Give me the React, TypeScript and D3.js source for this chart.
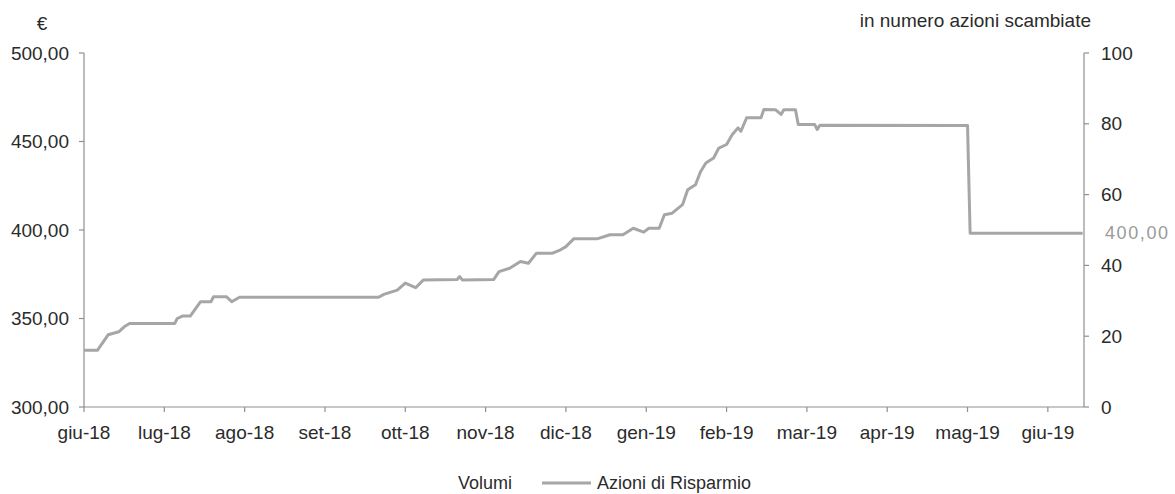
import React from "react";
import * as d3 from "d3";

const monthLabels = ["giu-18", "lug-18", "ago-18", "set-18", "ott-18", "nov-18", "dic-18", "gen-19", "feb-19", "mar-19", "apr-19", "mag-19", "giu-19"];
const priceTicks = [300, 350, 400, 450, 500];
const volumeTicks = [0, 20, 40, 60, 80, 100];

const priceDates = [
  "2018-06-01", "2018-06-06", "2018-06-10", "2018-06-14", "2018-06-16", "2018-06-18",
  "2018-07-05", "2018-07-06", "2018-07-08", "2018-07-11", "2018-07-15", "2018-07-19",
  "2018-07-20", "2018-07-25", "2018-07-27", "2018-07-30", "2018-09-21", "2018-09-23",
  "2018-09-28", "2018-10-01", "2018-10-05", "2018-10-08", "2018-10-21", "2018-10-22",
  "2018-10-23", "2018-11-04", "2018-11-06", "2018-11-10", "2018-11-14", "2018-11-17",
  "2018-11-20", "2018-11-26", "2018-11-29", "2018-12-01", "2018-12-04", "2018-12-13",
  "2018-12-18", "2018-12-23", "2018-12-27", "2018-12-31", "2019-01-02", "2019-01-06",
  "2019-01-08", "2019-01-11", "2019-01-15", "2019-01-17", "2019-01-20", "2019-01-22",
  "2019-01-24", "2019-01-27", "2019-01-29", "2019-02-01", "2019-02-03", "2019-02-05",
  "2019-02-06", "2019-02-08", "2019-02-13", "2019-02-14", "2019-02-18", "2019-02-20",
  "2019-02-21", "2019-02-25", "2019-02-26", "2019-03-04", "2019-03-05", "2019-03-06",
  "2019-05-01", "2019-05-02", "2019-06-14",
];
const priceValues = [
  332, 332, 340.8, 342.5, 345.3, 347.2,
  347.2, 350, 351.4, 351.4, 359.5, 359.5,
  362.3, 362.3, 359.5, 362, 362, 363.6,
  366, 370, 367.4, 371.8, 372, 373.7,
  371.8, 372, 376.5, 378.4, 382.2, 381.2,
  386.9, 386.9, 388.8, 390.6, 395, 395,
  397.3, 397.3, 401, 398.8, 401, 401,
  408.6, 409.5, 414.3, 422.8, 425.6, 433.1,
  437.9, 440.7, 446.3, 448.3, 453.9, 457.7,
  455.8, 463.4, 463.4, 468.1, 468, 465.3,
  468, 468, 459.6, 459.6, 456.8, 459.2,
  459, 398.2, 398.2,
];
const lastLabel = "400,00";
const xEnd = 12.45;

const W = 1175, H = 494;
const left = 84, right = 1084, top = 53, bottom = 407;
const font = "'Liberation Sans', Arial, sans-serif";
const axisColor = "#8f8f8f";
const lineColor = "#a6a6a6";
const textColor = "#2b2b2b";

function monthPos(s: string): number {
  const [y, m, d] = s.split("-").map(Number);
  const days = new Date(y, m, 0).getDate();
  return (y - 2018) * 12 + (m - 6) + (d - 1) / days;
}

const itLocale = d3.formatLocale({ decimal: ",", thousands: ".", grouping: [3], currency: ["€", ""] });
const fmt = itLocale.format(".2f");

export default function App() {
  const x = d3.scaleLinear().domain([0, xEnd]).range([left, right]);
  const yL = d3.scaleLinear().domain([300, 500]).range([bottom, top]);
  const yR = d3.scaleLinear().domain([0, 100]).range([bottom, top]);
  const pts = priceDates.map((d, i) => [monthPos(d), priceValues[i]] as [number, number]);
  const line = d3.line<[number, number]>().x((p) => x(p[0])).y((p) => yL(p[1]));
  const last = pts[pts.length - 1];

  return (
    <svg width={W} height={H} style={{ position: "absolute", left: 0, top: 0, background: "#fff" }} fontFamily={font}>
      <rect x={0} y={0} width={W} height={H} fill="#fff" />
      <line x1={left} y1={top} x2={left} y2={bottom} stroke={axisColor} strokeWidth={1.2} />
      <line x1={right} y1={top} x2={right} y2={bottom} stroke={axisColor} strokeWidth={1.2} />
      <line x1={left} y1={bottom} x2={right} y2={bottom} stroke={axisColor} strokeWidth={1.2} />
      {priceTicks.map((t) => (
        <g key={"l" + t}>
          <line x1={left - 5} x2={left} y1={yL(t)} y2={yL(t)} stroke={axisColor} strokeWidth={1.2} />
          <text x={69} y={yL(t)} dy="0.35em" textAnchor="end" fontSize={19} fill={textColor}>{fmt(t)}</text>
        </g>
      ))}
      {volumeTicks.map((t) => (
        <g key={"r" + t}>
          <line x1={right} x2={right + 5} y1={yR(t)} y2={yR(t)} stroke={axisColor} strokeWidth={1.2} />
          <text x={1101} y={yR(t)} dy="0.35em" textAnchor="start" fontSize={19} fill={textColor}>{t}</text>
        </g>
      ))}
      {monthLabels.map((m, i) => (
        <g key={m}>
          <line x1={x(i)} x2={x(i)} y1={bottom} y2={bottom + 5} stroke={axisColor} strokeWidth={1.2} />
          <text x={x(i)} y={432} dy="0.35em" textAnchor="middle" fontSize={19} fill={textColor}>{m}</text>
        </g>
      ))}
      <path d={line(pts) || ""} fill="none" stroke={lineColor} strokeWidth={3} strokeLinejoin="round" />
      <text x={1105} y={yL(last[1])} dy="0.35em" fontSize={18} letterSpacing={1.6} fill="#9a9a9a">{lastLabel}</text>
      <text x={42} y={23} dy="0.35em" textAnchor="middle" fontSize={19} fill={textColor}>€</text>
      <text x={1091} y={20} dy="0.35em" textAnchor="end" fontSize={19} fill={textColor}>in numero azioni scambiate</text>
      <text x={458} y={483} dy="0.35em" fontSize={18} fill={textColor}>Volumi</text>
      <line x1={542} x2={591} y1={483} y2={483} stroke={lineColor} strokeWidth={3} />
      <text x={597} y={483} dy="0.35em" fontSize={18} fill={textColor}>Azioni di Risparmio</text>
    </svg>
  );
}
